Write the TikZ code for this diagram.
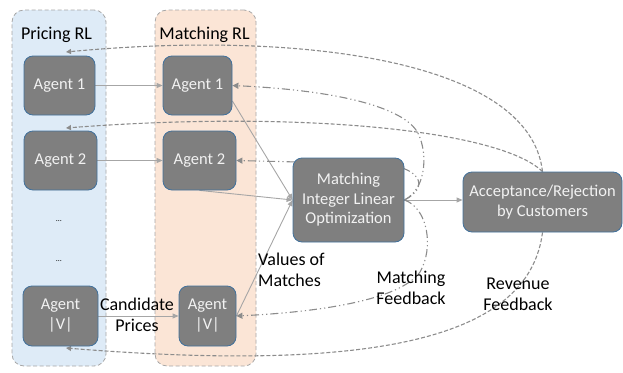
\documentclass[tikz,border=0pt]{standalone}
\usepackage{fontspec}
\setmainfont{Carlito}
\usetikzlibrary{arrows.meta}
\definecolor{pfill}{HTML}{DEEBF7}
\definecolor{mfill}{HTML}{FBE5D6}
\definecolor{boxgray}{HTML}{7F7F7F}
\definecolor{boxedge}{HTML}{41719C}
\definecolor{boxtext}{HTML}{F2F2F2}
\definecolor{linegray}{HTML}{A6A6A6}
\definecolor{dashgray}{HTML}{8C8C8C}
\definecolor{framegray}{HTML}{A6A6A6}
\pgfdeclarelayer{bg}
\pgfdeclarelayer{mid}
\pgfsetlayers{bg,mid,main}
\begin{document}
\begin{tikzpicture}[x=1pt,y=-1pt,
 container/.style={draw=framegray, dash pattern=on 4pt off 2.5pt, line width=0.8pt, rounded corners=12pt, inner sep=0pt},
 agentbox/.style={draw=boxedge, line width=0.8pt, fill=boxgray, rounded corners=9pt, text=boxtext, align=center, inner sep=0pt, font=\fontsize{16.5}{20}\selectfont},
 grouplabel/.style={font=\fontsize{18}{21}\selectfont, text=black, inner sep=0pt},
 edgelabel/.style={font=\fontsize{18}{21}\selectfont, align=center, inner sep=0pt},
 flow/.style={draw=linegray, line width=0.9pt, -{Triangle[length=6pt,width=5pt]}},
 revenue/.style={draw=dashgray, line width=1.1pt, dash pattern=on 4pt off 2pt, -{Triangle[length=5pt,width=5pt]}},
 matchfb/.style={draw=dashgray, line width=1.1pt, dash pattern=on 8pt off 3pt on 1.2pt off 3pt on 1.2pt off 3pt, -{Triangle[length=6pt,width=6pt]}},
]
\useasboundingbox (0,0) rectangle (623,372);

% agents and boxes
\node[agentbox, minimum width=71pt, minimum height=59pt] (pa1) at (59.5,85.5) {Agent 1};
\node[agentbox, minimum width=73pt, minimum height=59pt] (pa2) at (60.5,160.5) {Agent 2};
\node[agentbox, minimum width=75pt, minimum height=60pt] (pav) at (60.5,316) {Agent\\|V|};
\node[agentbox, minimum width=69pt, minimum height=59pt] (ma1) at (197.5,85.5) {Agent 1};
\node[agentbox, minimum width=73pt, minimum height=59pt] (ma2) at (199.5,160.5) {Agent 2};
\node[agentbox, minimum width=57pt, minimum height=60pt] (mav) at (207.5,316) {Agent\\|V|};
\node[agentbox, minimum width=111pt, minimum height=84pt, font=\fontsize{16.5}{19.5}\selectfont] (ilo) at (348.5,200) {Matching\\Integer Linear\\Optimization};
\node[agentbox, minimum width=159pt, minimum height=60pt] (acc) at (542.5,202) {Acceptance/Rejection\\by Customers};

% group labels
\node[grouplabel] (plabel) at (56.5,35) {Pricing RL};
\node[grouplabel] (mlabel) at (204.5,35) {Matching RL};
\node[font=\fontsize{8}{9}\selectfont] (dots1) at (59,221) {…};
\node[font=\fontsize{8}{9}\selectfont] (dots2) at (59,261) {…};

% edge labels
\node[edgelabel] (candlbl) at (137,315) {Candidate\\Prices};
\node[edgelabel, align=left, anchor=west] (vallbl) at (258,270) {Values of\\Matches};
\node[edgelabel] (mfblbl) at (411,288) {Matching\\Feedback};
\node[edgelabel] (rfblbl) at (518,294) {Revenue\\Feedback};

\begin{pgfonlayer}{bg}
\node[container, fill=pfill, minimum width=94pt, minimum height=356pt] (prl) at (59,188) {};
\node[container, fill=mfill, minimum width=101pt, minimum height=356pt] (mrl) at (205.5,188) {};
\end{pgfonlayer}

\begin{pgfonlayer}{mid}
% forward flows
\draw[flow] (pa1.east) -- (ma1.west |- pa1.east);
\draw[flow] (pa2.east) -- (ma2.west |- pa2.east);
\draw[flow] (pav.east) -- (mav.west |- pav.east);
\draw[flow] (ma1.east |- 0,101) -- (ilo.west);
\draw[flow] (ma2.south) -- (ilo.west);
\draw[flow] (mav.east) -- (ilo.west);
\draw[flow] (ilo.east) -- (ilo.east -| acc.west);

% revenue feedback
\draw[revenue] (acc.north) .. controls (530,60) and (300,30) .. (66,52);
\draw[revenue] (acc.north) .. controls (500,130) and (300,110) .. (66,128);
\draw[revenue] (acc.south) .. controls (530,330) and (400,375) .. (66,348);

% matching feedback
\draw[matchfb] (ilo.east) .. controls (428,188) and (428,148) .. (416,130) .. controls (398,105) and (330,90) .. (ma1.east);
\draw[matchfb] (ilo.east) .. controls (432,186) and (418,166) .. (380,164) -- (ma2.east);
\draw[matchfb] (ilo.east) .. controls (428,208) and (434,248) .. (420,272) .. controls (400,300) and (320,312) .. (mav.east);
\end{pgfonlayer}
\end{tikzpicture}
\end{document}
